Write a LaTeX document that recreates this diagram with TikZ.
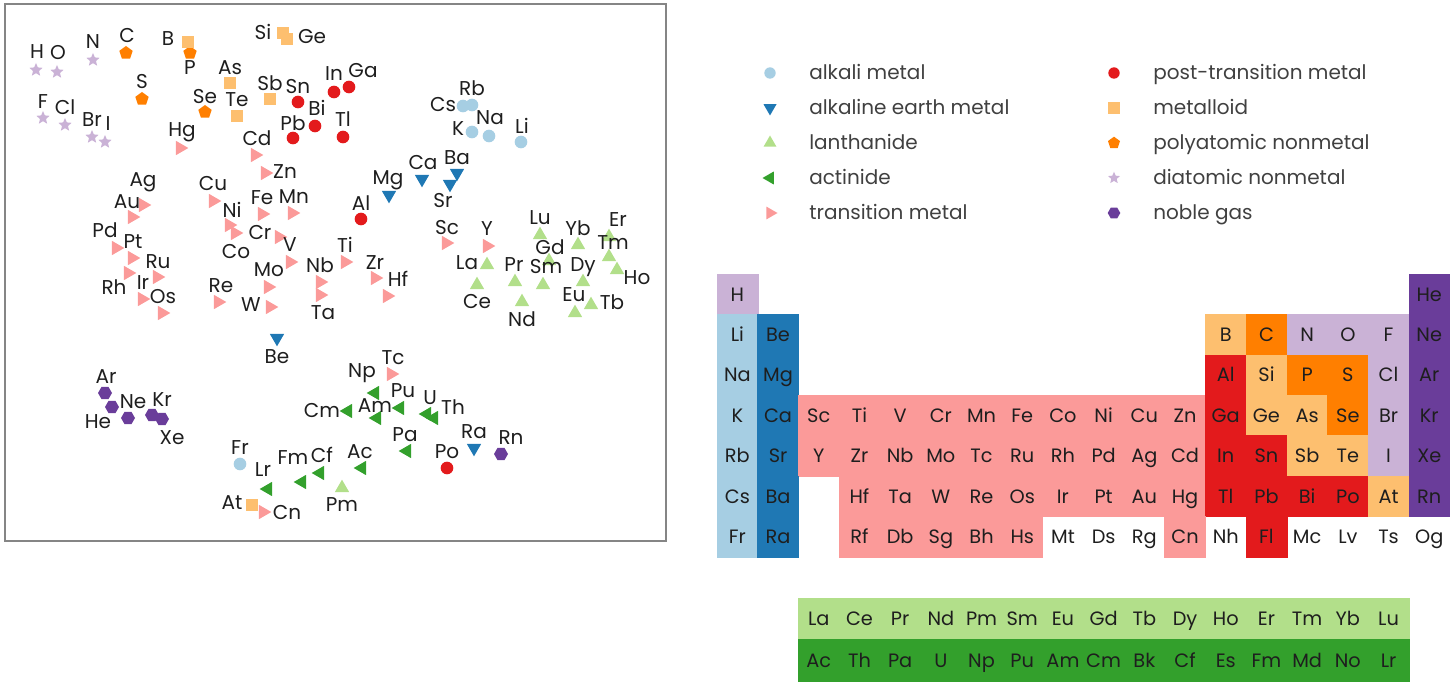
\documentclass[tikz,border=0pt]{standalone}
\usepackage{fontspec}
\setmainfont{Poppins}
\usetikzlibrary{shapes.geometric}
\definecolor{cAlk}{HTML}{A6CEE3}
\definecolor{cAE}{HTML}{1F78B4}
\definecolor{cLan}{HTML}{B2DF8A}
\definecolor{cAct}{HTML}{33A02C}
\definecolor{cTr}{HTML}{FB9A99}
\definecolor{cPost}{HTML}{E31A1C}
\definecolor{cMet}{HTML}{FDBF6F}
\definecolor{cPoly}{HTML}{FF7F00}
\definecolor{cDia}{HTML}{CAB2D6}
\definecolor{cNob}{HTML}{6A3D9A}
\definecolor{txt}{HTML}{1E1E1E}
\definecolor{frame}{HTML}{858585}
\tikzset{
  mk/.style={inner sep=0pt, outer sep=0pt, draw=none},
  alk/.style={mk, circle, fill=cAlk, minimum size=9.5pt},
  aem/.style={mk, regular polygon, regular polygon sides=3, rotate=180, fill=cAE, minimum size=12.5pt},
  lan/.style={mk, regular polygon, regular polygon sides=3, fill=cLan, minimum size=12.5pt},
  act/.style={mk, regular polygon, regular polygon sides=3, rotate=90, fill=cAct, minimum size=12.5pt},
  trm/.style={mk, regular polygon, regular polygon sides=3, rotate=-90, fill=cTr, minimum size=12.5pt},
  ptm/.style={mk, circle, fill=cPost, minimum size=9.5pt},
  mtl/.style={mk, rectangle, fill=cMet, minimum size=9.5pt},
  pol/.style={mk, regular polygon, regular polygon sides=5, fill=cPoly, minimum size=10.5pt},
  dia/.style={mk, star, star points=5, star point ratio=2.2, fill=cDia, minimum size=10.5pt},
  nob/.style={mk, regular polygon, regular polygon sides=6, fill=cNob, minimum size=10.5pt},
  lab/.style={inner sep=0pt, font=\fontsize{15}{17}\selectfont, text=txt},
  legtxt/.style={inner sep=0pt, anchor=base west, font=\fontsize{15}{17}\selectfont, text=txt!85!white},
  pc/.style={inner sep=0pt, outer sep=0pt, minimum width=30.6pt, minimum height=30.4pt,
    fill=#1, draw=#1, line width=0.3pt, font=\fontsize{14.5}{16}\selectfont, text=txt,
    text height=12pt, text depth=1.7pt},
  lc/.style={pc=#1, minimum height=31.1pt},
}
\def\scatterpts{
dia/36/70/37/52/H, dia/57/72/58/53/O, dia/93/60/93/42/N, dia/43/118/43/102/F,
dia/65/125/65/107/Cl, dia/92/137/92/120/Br, dia/105/142/108/124/I,
pol/126/53/127/36/C, pol/190/53/190/68/P, pol/142/99/142/82/S, pol/205/112/205/97/Se,
mtl/188/42/168/39/B, mtl/283/33/263/32/Si, mtl/287/39/312/37/Ge, mtl/230/83/230/68/As,
mtl/270/99/270/83/Sb, mtl/237/116/237/100/Te, mtl/252/505/232/503/At,
ptm/298/102/298/87/Sn, ptm/315/126/317/108/Bi, ptm/293/138/293/123/Pb, ptm/334/92/334/74/In,
ptm/349/87/363/71/Ga, ptm/343/137/343/119/Tl, ptm/361/219/361/203/Al, ptm/447/468/447/452/Po,
alk/463/106/443/105/Cs, alk/472/105/472/88/Rb, alk/472/132/458/129/K, alk/489/136/490/118/Na,
alk/521/142/522/126/Li, alk/240/464/240/448/Fr,
aem/389/195/388/180/Mg, aem/422/179/423/163/Ca, aem/457/173/457/158/Ba, aem/450/184/443/201/Sr,
aem/277/338/277/357/Be, aem/474/448/474/432/Ra,
trm/180/148/182/132/Hg, trm/255/155/257/138/Cd, trm/265/173/285/172/Zn, trm/143/205/143/182/Ag,
trm/132/217/127/202/Au, trm/116/248/105/230/Pd, trm/132/258/133/242/Pt, trm/157/277/158/262/Ru,
trm/128/273/114/287/Rh, trm/142/299/143/283/Ir, trm/162/313/163/297/Os, trm/213/201/213/184/Cu,
trm/229/225/232/210/Ni, trm/235/233/236/252/Co, trm/262/214/262/198/Fe, trm/292/213/294/197/Mn,
trm/279/237/260/233/Cr, trm/290/262/290/245/V, trm/268/287/269/270/Mo, trm/270/307/251/305/W,
trm/218/302/221/286/Re, trm/320/282/320/265/Nb, trm/320/295/323/313/Ta, trm/345/262/345/245/Ti,
trm/375/278/375/263/Zr, trm/387/296/398/279/Hf, trm/446/243/447/228/Sc, trm/487/246/487/229/Y,
trm/391/374/393/358/Tc, trm/263/512/287/512/Cn,
lan/487/265/467/263/La, lan/477/285/477/302/Ce, lan/515/282/514/265/Pr, lan/522/302/522/319/Nd,
lan/543/285/546/267/Sm, lan/549/261/550/247/Gd, lan/540/235/540/218/Lu, lan/578/245/578/228/Yb,
lan/609/237/618/220/Er, lan/609/257/613/243/Tm, lan/617/270/637/278/Ho, lan/583/282/583/267/Dy,
lan/591/305/612/302/Tb, lan/575/313/574/295/Eu, lan/342/488/342/505/Pm,
act/375/393/362/373/Np, act/348/411/322/410/Cm, act/377/418/375/406/Am, act/400/408/403/391/Pu,
act/427/414/430/398/U, act/434/418/453/407/Th, act/407/451/405/435/Pa, act/362/468/360/452/Ac,
act/302/482/293/458/Fm, act/320/473/322/455/Cf, act/268/489/263/470/Lr,
nob/105/393/106/377/Ar, nob/112/407/133/402/Ne, nob/128/418/98/422/He, nob/152/415/162/400/Kr,
nob/162/419/172/438/Xe, nob/501/454/511/438/Rn}
\begin{document}
\begin{tikzpicture}[x=0.75pt,y=-0.75pt]
\useasboundingbox (0,0) rectangle (1453,684);
% scatter frame
\node[draw=frame, line width=1.5pt, minimum width=495.75pt, minimum height=402.75pt, inner sep=0pt] (frame) at (335.5,272.5) {};
% scatter markers, then labels on top
\foreach \s/\mx/\my/\lx/\ly/\t in \scatterpts
{
  \node[\s] (m-\t) at (\mx,\my) {};
}
\foreach \s/\mx/\my/\lx/\ly/\t in \scatterpts
{
  \node[lab] (l-\t) at (\lx,\ly) {\t};
}
% legend
\foreach \s/\x/\y/\t [count=\i] in {
alk/770/73/alkali metal, aem/770/108/alkaline earth metal, lan/770/143/lanthanide,
act/770/178/actinide, trm/770/213/transition metal,
ptm/1114/73/post-transition metal, mtl/1114/108/metalloid, pol/1114/143/polyatomic nonmetal,
dia/1114/178/diatomic nonmetal, nob/1114/213/noble gas}
{
  \node[\s, scale=0.9] (lg-\i) at (\x,\y) {};
  \node[legtxt] (lgt-\i) at (\x+39,\y+7) {\t};
}
% periodic table
\foreach \c/\r/\s/\t in {
1/1/cDia/H, 18/1/cNob/He,
1/2/cAlk/Li, 2/2/cAE/Be, 13/2/cMet/B, 14/2/cPoly/C, 15/2/cDia/N, 16/2/cDia/O, 17/2/cDia/F, 18/2/cNob/Ne,
1/3/cAlk/Na, 2/3/cAE/Mg, 13/3/cPost/Al, 14/3/cMet/Si, 15/3/cPoly/P, 16/3/cPoly/S, 17/3/cDia/Cl, 18/3/cNob/Ar,
1/4/cAlk/K, 2/4/cAE/Ca, 3/4/cTr/Sc, 4/4/cTr/Ti, 5/4/cTr/V, 6/4/cTr/Cr, 7/4/cTr/Mn, 8/4/cTr/Fe,
9/4/cTr/Co, 10/4/cTr/Ni, 11/4/cTr/Cu, 12/4/cTr/Zn, 13/4/cPost/Ga, 14/4/cMet/Ge, 15/4/cMet/As,
16/4/cPoly/Se, 17/4/cDia/Br, 18/4/cNob/Kr,
1/5/cAlk/Rb, 2/5/cAE/Sr, 3/5/cTr/Y, 4/5/cTr/Zr, 5/5/cTr/Nb, 6/5/cTr/Mo, 7/5/cTr/Tc, 8/5/cTr/Ru,
9/5/cTr/Rh, 10/5/cTr/Pd, 11/5/cTr/Ag, 12/5/cTr/Cd, 13/5/cPost/In, 14/5/cPost/Sn, 15/5/cMet/Sb,
16/5/cMet/Te, 17/5/cDia/I, 18/5/cNob/Xe,
1/6/cAlk/Cs, 2/6/cAE/Ba, 4/6/cTr/Hf, 5/6/cTr/Ta, 6/6/cTr/W, 7/6/cTr/Re, 8/6/cTr/Os, 9/6/cTr/Ir,
10/6/cTr/Pt, 11/6/cTr/Au, 12/6/cTr/Hg, 13/6/cPost/Tl, 14/6/cPost/Pb, 15/6/cPost/Bi, 16/6/cPost/Po,
17/6/cMet/At, 18/6/cNob/Rn,
1/7/cAlk/Fr, 2/7/cAE/Ra, 4/7/cTr/Rf, 5/7/cTr/Db, 6/7/cTr/Sg, 7/7/cTr/Bh, 8/7/cTr/Hs, 9/7/none/Mt,
10/7/none/Ds, 11/7/none/Rg, 12/7/cTr/Cn, 13/7/none/Nh, 14/7/cPost/Fl, 15/7/none/Mc, 16/7/none/Lv,
17/7/none/Ts, 18/7/none/Og}
{
  \node[pc=\s] (p-\t) at ({717+(\c-0.5)*40.7},{274+(\r-0.5)*40.4}) {\t};
}
\foreach \t [count=\i] in {La,Ce,Pr,Nd,Pm,Sm,Eu,Gd,Tb,Dy,Ho,Er,Tm,Yb,Lu}
{
  \node[lc=cLan] (p-\t) at ({717+(\i+1.5)*40.7},618.75) {\t};
}
\foreach \t [count=\i] in {Ac,Th,Pa,U,Np,Pu,Am,Cm,Bk,Cf,Es,Fm,Md,No,Lr}
{
  \node[lc=cAct] (p-\t) at ({717+(\i+1.5)*40.7},660.25) {\t};
}
\end{tikzpicture}
\end{document}
